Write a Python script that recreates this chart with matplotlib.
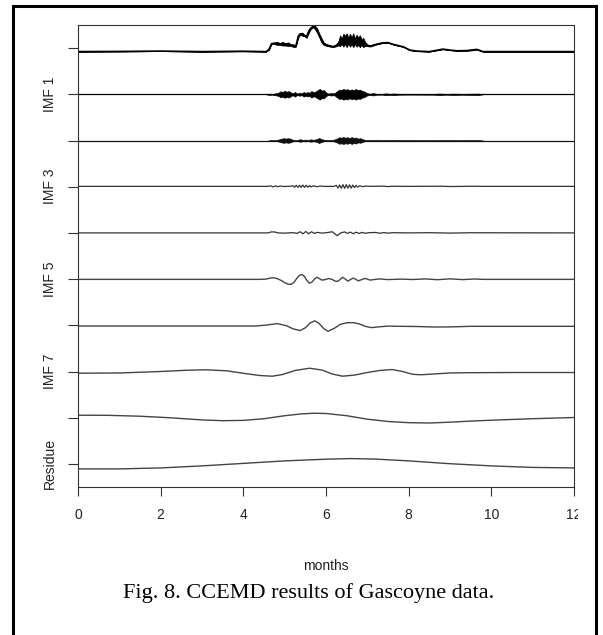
import matplotlib
matplotlib.use("Agg")
import matplotlib.pyplot as plt
from matplotlib.patches import Rectangle
from matplotlib.transforms import Bbox

# stacked CCEMD components, one slot per component (top to bottom)
slot_names = ["", "IMF 1", "", "IMF 3", "", "IMF 5", "", "IMF 7", "", "Residue"]
x_ticks = [0, 2, 4, 6, 8, 10, 12]

# original signal: trend, and half-height of the noisy band at the same x
sig_x = [0, 1.0, 2.0, 3.0, 4.0, 4.55, 4.62, 4.68, 4.75, 4.82, 4.88, 4.95, 5.02, 5.08, 5.15,
         5.22, 5.27, 5.33, 5.38, 5.43, 5.48, 5.53, 5.58, 5.63, 5.69, 5.74, 5.79, 5.84, 5.89,
         5.94, 6.0, 6.08, 6.17, 6.25, 6.3, 6.34, 6.38, 6.42, 6.46, 6.5, 6.54, 6.58, 6.62,
         6.66, 6.7, 6.74, 6.78, 6.82, 6.86, 6.9, 6.95, 7.0, 7.07, 7.23, 7.38, 7.5, 7.63, 7.87,
         8.03, 8.2, 8.5, 8.83, 9.0, 9.17, 9.4, 9.65, 9.8, 12]
sig_y = [-0.076, -0.072, -0.065, -0.076, -0.068, -0.076, -0.03, 0.095, 0.105, 0.10, 0.09,
         0.095, 0.08, 0.085, 0.065, 0.05, 0.04, 0.26, 0.31, 0.30, 0.27, 0.25, 0.36, 0.43,
         0.47, 0.44, 0.37, 0.27, 0.17, 0.10, 0.07, 0.05, 0.03, 0.06, 0.10, 0.16, 0.15, 0.17,
         0.18, 0.17, 0.16, 0.17, 0.16, 0.17, 0.15, 0.16, 0.15, 0.15, 0.13, 0.12, 0.09, 0.06,
         0.043, 0.087, 0.115, 0.119, 0.08, 0.028, -0.043, -0.065, -0.076, -0.022, -0.043,
         -0.058, -0.054, -0.028, -0.076, -0.076]
sig_amp = [0, 0, 0, 0, 0, 0, 0.005, 0.01, 0.015, 0.035, 0.02, 0.04, 0.025, 0.04, 0.02,
           0.03, 0.01, 0.03, 0.02, 0.035, 0.015, 0.03, 0.04, 0.02, 0.02, 0.04, 0.05, 0.04,
           0.05, 0.03, 0.02, 0.015, 0.01, 0.02, 0.04, 0.12, 0.06, 0.14, 0.09, 0.15, 0.07,
           0.14, 0.08, 0.15, 0.06, 0.13, 0.08, 0.13, 0.06, 0.1, 0.04, 0.02, 0.01, 0.008,
           0.006, 0.005, 0.006, 0.005, 0.004, 0.003, 0, 0.005, 0.004, 0.006, 0.008, 0.008,
           0, 0]

# high frequency IMFs: envelope (half amplitude) of the bursts
imf1_x = [4.55, 4.62, 4.7, 4.78, 4.85, 4.9, 4.95, 5.0, 5.05, 5.1, 5.15, 5.2, 5.25, 5.3, 5.36,
          5.42, 5.46, 5.5, 5.55, 5.6, 5.65, 5.7, 5.75, 5.8, 5.85, 5.9, 5.95, 6.0, 6.05, 6.12,
          6.2, 6.27, 6.32, 6.37, 6.42, 6.47, 6.52, 6.57, 6.62, 6.67, 6.72, 6.77, 6.82, 6.88,
          6.93, 6.98, 7.05, 7.15, 7.22, 7.35, 7.45, 7.55, 7.65, 7.75, 8.0, 8.6, 8.75, 8.9,
          9.1, 9.3, 9.5, 9.7, 9.8]
imf1_amp = [0, 0.012, 0.008, 0.02, 0.035, 0.065, 0.05, 0.075, 0.055, 0.07, 0.04, 0.02, 0.05,
            0.015, 0.03, 0.02, 0.05, 0.03, 0.045, 0.035, 0.07, 0.04, 0.06, 0.09, 0.115, 0.08,
            0.09, 0.04, 0.015, 0.025, 0.02, 0.07, 0.1, 0.09, 0.115, 0.1, 0.11, 0.085, 0.105,
            0.09, 0.115, 0.09, 0.1, 0.07, 0.06, 0.03, 0.012, 0.025, 0.01, 0.006, 0.02, 0.01,
            0.018, 0.008, 0.006, 0.008, 0.015, 0.008, 0.014, 0.008, 0.012, 0.014, 0]

imf2_x = [4.6, 4.68, 4.75, 4.85, 4.92, 4.98, 5.03, 5.08, 5.14, 5.2, 5.25, 5.32, 5.38, 5.44,
          5.5, 5.56, 5.62, 5.7, 5.78, 5.83, 5.88, 5.93, 6.0, 6.1, 6.2, 6.27, 6.32, 6.37, 6.42,
          6.47, 6.52, 6.57, 6.62, 6.67, 6.72, 6.78, 6.83, 6.88, 6.95, 7.05, 7.2, 7.35, 7.6,
          7.8, 8.5, 8.8, 9.3, 9.7, 9.8]
imf2_amp = [0, 0.01, 0.006, 0.02, 0.04, 0.05, 0.04, 0.05, 0.04, 0.015, 0.008, 0.015, 0.028,
            0.012, 0.02, 0.01, 0.025, 0.015, 0.03, 0.055, 0.035, 0.02, 0.01, 0.008, 0.02,
            0.045, 0.07, 0.06, 0.075, 0.06, 0.07, 0.05, 0.075, 0.055, 0.065, 0.04, 0.05,
            0.03, 0.012, 0.006, 0.012, 0.006, 0.012, 0.008, 0.005, 0.008, 0.006, 0.008, 0]

# lower frequency IMFs: read point by point
imf3_x = [0, 4.6, 4.66, 4.72, 4.78, 4.84, 4.9, 4.96, 5.1, 5.2, 5.24, 5.28, 5.32, 5.36, 5.4,
          5.44, 5.48, 5.52, 5.56, 5.6, 5.64, 5.7, 5.78, 5.86, 5.95, 6.2, 6.25, 6.29, 6.33,
          6.37, 6.41, 6.45, 6.49, 6.53, 6.57, 6.61, 6.65, 6.69, 6.73, 6.77, 6.82, 6.88, 6.95,
          7.05, 7.4, 7.5, 7.6, 8.0, 8.8, 9.0, 9.6, 9.8, 12]
imf3_y = [0.007, 0.007, 0.02, -0.005, 0.018, 0.0, 0.015, 0.005, 0.007, 0.02, -0.01, 0.03,
          -0.015, 0.03, -0.015, 0.035, -0.015, 0.03, -0.01, 0.025, -0.005, 0.02, 0.0, 0.015,
          0.007, 0.007, 0.03, -0.03, 0.04, -0.035, 0.045, -0.035, 0.045, -0.03, 0.04, -0.03,
          0.035, -0.02, 0.03, -0.01, 0.02, 0.0, 0.015, 0.007, 0.012, 0.002, 0.01, 0.007, 0.01,
          0.004, 0.01, 0.007, 0.007]

imf4_x = [0, 4.6, 4.68, 4.76, 4.84, 5.0, 5.2, 5.3, 5.37, 5.44, 5.51, 5.58, 5.65, 5.72, 5.79,
          5.9, 6.05, 6.15, 6.27, 6.36, 6.45, 6.52, 6.59, 6.66, 6.73, 6.8, 6.87, 6.94, 7.05,
          7.2, 7.3, 7.4, 7.5, 7.6, 8.0, 8.5, 9.0, 9.5, 12]
imf4_y = [0, 0, 0.022, 0.02, 0, -0.005, 0.005, -0.01, 0.025, -0.02, 0.03, -0.018, 0.025,
          -0.012, 0.012, -0.005, 0.01, 0.025, -0.06, 0.0, 0.022, -0.012, 0.018, -0.018,
          0.015, -0.012, 0.012, -0.008, 0.005, 0.01, -0.008, 0.008, -0.006, 0.004, 0, 0.004,
          -0.004, 0.003, 0]

imf5_x = [0, 4.40, 4.55, 4.65, 4.72, 4.80, 4.90, 5.00, 5.08, 5.15, 5.22, 5.30, 5.36, 5.42,
          5.48, 5.54, 5.60, 5.66, 5.72, 5.78, 5.84, 5.90, 5.98, 6.06, 6.14, 6.22, 6.28, 6.34,
          6.40, 6.47, 6.53, 6.60, 6.66, 6.72, 6.78, 6.86, 6.94, 7.00, 7.07, 7.15, 7.3, 7.5,
          7.8, 8.1, 8.4, 8.7, 9.0, 9.3, 9.6, 9.8, 12]
imf5_y = [-0.006, -0.006, 0.0, 0.022, 0.028, 0.017, -0.022, -0.076, -0.108, -0.115, -0.076,
          0.022, 0.082, 0.100, 0.054, -0.032, -0.087, -0.065, 0.0, 0.039, 0.011, -0.022,
          -0.011, 0.013, -0.004, -0.043, -0.050, -0.011, 0.039, 0.0, -0.043, -0.006, 0.022,
          -0.004, -0.037, -0.013, 0.015, 0.0, -0.022, -0.011, 0.004, -0.011, 0.0, -0.009,
          0.004, -0.013, 0.006, -0.011, 0.002, -0.006, -0.006]

imf6_x = [0, 4.3, 4.55, 4.82, 5.05, 5.2, 5.37, 5.5, 5.62, 5.73, 5.83, 5.95, 6.05, 6.2, 6.35,
          6.5, 6.66, 6.8, 6.95, 7.1, 7.3, 7.5, 7.8, 8.2, 8.6, 9.0, 9.5, 10, 12]
imf6_y = [-0.015, -0.015, 0.004, 0.037, -0.011, -0.076, -0.113, -0.054, 0.054, 0.097, 0.043,
          -0.076, -0.130, -0.065, 0.022, 0.054, 0.058, 0.032, -0.022, -0.050, -0.032, -0.017,
          -0.022, -0.026, -0.037, -0.035, -0.022, -0.022, -0.022]

imf7_x = [0, 1, 2, 2.6, 3.1, 3.6, 4.0, 4.4, 4.7, 4.95, 5.25, 5.6, 5.9, 6.15, 6.4, 6.7, 7.0,
          7.3, 7.6, 7.85, 8.1, 8.3, 8.6, 9.0, 9.5, 10.5, 12]
imf7_y = [-0.037, -0.032, 0.0, 0.026, 0.037, 0.015, -0.039, -0.087, -0.102, -0.065, 0.022,
          0.071, 0.032, -0.054, -0.102, -0.076, -0.022, 0.022, 0.043, 0.0, -0.061, -0.071,
          -0.054, -0.032, -0.026, -0.022, -0.022]

imf8_x = [0, 0.7, 1.5, 2.2, 3.0, 3.5, 4.0, 4.5, 5.0, 5.4, 5.7, 6.0, 6.5, 7.0, 7.5, 8.0, 8.5,
          9.0, 9.5, 10.0, 11.0, 12]
imf8_y = [0.054, 0.052, 0.032, 0.0, -0.048, -0.065, -0.058, -0.022, 0.043, 0.082, 0.097,
          0.091, 0.043, -0.032, -0.082, -0.108, -0.115, -0.097, -0.074, -0.054, -0.022, 0.004]

res_x = [0, 1, 2, 3, 4, 5, 6, 6.6, 7.2, 8, 9, 10, 11, 12]
res_y = [-0.108, -0.108, -0.087, -0.043, 0.011, 0.065, 0.102, 0.115, 0.104, 0.065, 0.004,
         -0.043, -0.076, -0.087]

fig = plt.figure(figsize=(6.03, 6.35), dpi=100)
ax = fig.add_axes([78 / 603, 1 - 487 / 635, 496 / 603, 462 / 635])


def place(k, vals):
    # slot k sits at y = k; the axis is inverted so upward deviation is subtracted
    return [k - v for v in vals]


def burst(k, xs, amps, col="black"):
    ax.plot([0, 12], [k, k], color=col, lw=0.9)
    ax.fill_between(xs, [k - a for a in amps], [k + a for a in amps],
                    color=col, lw=0.5, edgecolor=col)


# signal
ax.plot(sig_x, place(1, sig_y), color="black", lw=1.2)
ax.fill_between(sig_x, [1 - m - a for m, a in zip(sig_y, sig_amp)],
                [1 - m + a for m, a in zip(sig_y, sig_amp)],
                color="black", lw=0.5, edgecolor="black")

burst(2, imf1_x, imf1_amp)
burst(3, imf2_x, imf2_amp, col="#111111")

ax.plot(imf3_x, place(4, imf3_y), color="#333333", lw=0.9)
ax.plot(imf4_x, place(5, imf4_y), color="#333333", lw=0.9)
ax.plot(imf5_x, place(6, imf5_y), color="#444444", lw=1.0)
ax.plot(imf6_x, place(7, imf6_y), color="#444444", lw=1.0)
ax.plot(imf7_x, place(8, imf7_y), color="#444444", lw=1.0)
ax.plot(imf8_x, place(9, imf8_y), color="#444444", lw=1.0)
ax.plot(res_x, place(10, res_y), color="#444444", lw=1.0)

ax.set_xlim(0, 12)
ax.set_ylim(10.5, 0.5)
ax.set_yticks(range(1, 11))
ax.set_yticklabels(slot_names, rotation=90, va="center", fontsize=10,
                   family="Liberation Sans", color="#222222")
ax.set_xticks(x_ticks)
ax.set_xticklabels([str(t) for t in x_ticks], fontsize=10, family="Liberation Sans",
                   color="#222222")
ax.tick_params(axis="y", length=7, width=0.8, color="#333333", pad=8)
ax.tick_params(axis="x", length=6.5, width=0.8, color="#333333", pad=8.5)
for s in ax.spines.values():
    s.set_color("#333333")
    s.set_linewidth(0.8)

# the last tick label is cut by the right edge of the figure panel
fig.canvas.draw()
lab12 = ax.get_xticklabels()[-1]
lab12.set_clip_box(Bbox([[0, 0], [578, 635]]))
lab12.set_clip_on(True)

fig.text(326 / 603, 1 - 566 / 635, "months", ha="center", va="center", fontsize=10,
         family="Liberation Sans", color="#222222")
fig.text(309 / 603, 1 - 593 / 635, "Fig. 8. CCEMD results of Gascoyne data.", ha="center",
         va="center", fontsize=16, family="Liberation Serif", color="black")

# outer panel frame (open at the bottom of the crop)
fig.patches.append(Rectangle((12.7 / 603, -0.05), (595.5 - 12.7) / 603, 1.05 - 6 / 635,
                             transform=fig.transFigure, fill=False, lw=2.2,
                             edgecolor="black"))

fig.savefig("out.png", dpi=100)
